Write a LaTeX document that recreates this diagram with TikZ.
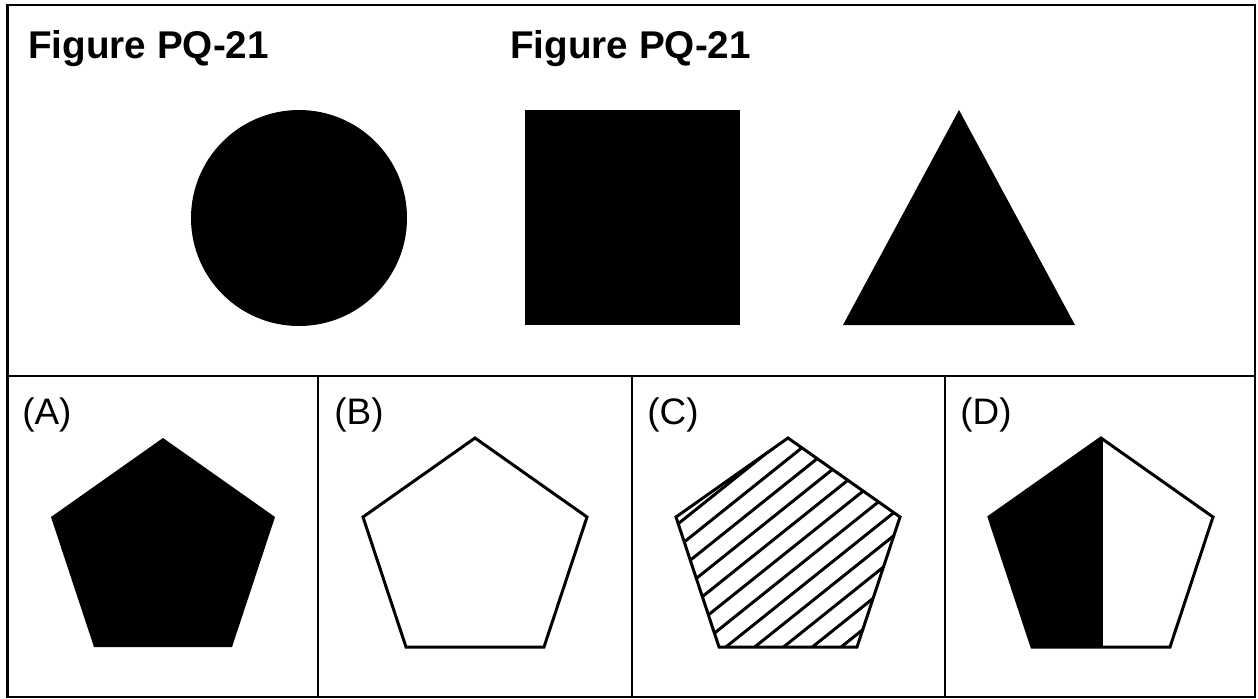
\documentclass[tikz,border=0pt]{standalone}
\usepackage{fontspec}
\setmainfont{Liberation Sans}
\usetikzlibrary{calc}
\tikzset{
  frameline/.style={line width=1.4pt, black},
  outline/.style={line width=1.7pt, black, line join=miter},
  hatchline/.style={line width=1.7pt, black},
  titletext/.style={anchor=base west, inner sep=0pt, font=\fontsize{22}{24}\selectfont\bfseries},
  labeltext/.style={anchor=base west, inner sep=0pt, font=\fontsize{21}{23}\selectfont},
}
\begin{document}
\begin{tikzpicture}[x=0.02cm, y=-0.02cm]
\useasboundingbox (0,0) rectangle (1258,698);
% frame and dividers
\draw[frameline] (7.5,5) rectangle (1255,697);
\draw[frameline] (7.5,376) -- (1255,376);
\draw[frameline] (318,376) -- (318,697);
\draw[frameline] (632,376) -- (632,697);
\draw[frameline] (945,376) -- (945,697);
% titles
\node[titletext] (t1) at (28,58) {Figure PQ-21};
\node[titletext] (t2) at (510,58) {Figure PQ-21};
% top shapes
\fill[black] (299,218) circle (108);
\fill[black] (525,110) rectangle (740,325);
\fill[black] (959,110) -- (1075,325) -- (843,325) -- cycle;
% labels
\node[labeltext] (la) at (22,424) {(A)};
\node[labeltext] (lb) at (334,424) {(B)};
\node[labeltext] (lc) at (647,424) {(C)};
\node[labeltext] (ld) at (960,424) {(D)};
% (A) filled pentagon
\def\pent#1{(#1,438) -- (#1+112,517) -- (#1+69,647) -- (#1-69,647) -- (#1-112,517) -- cycle}
\fill[black] \pent{163};
% (B) outline pentagon
\draw[outline] \pent{475};
% (C) hatched pentagon
\begin{scope}
  \clip \pent{788};
  \foreach \k in {0,...,11}{
    \draw[hatchline] ($(677,517)+({0.625*(6+18*\k)},{0.781*(6+18*\k)})$) ++(-156.2,125) -- ++(312.4,-250);
  }
\end{scope}
\draw[outline] \pent{788};
% (D) half filled pentagon
\fill[black] (1101,438) -- (1101,647) -- (1032,647) -- (989,517) -- cycle;
\draw[outline] (1101,438) -- (1101,647);
\draw[outline] \pent{1101};
\end{tikzpicture}
\end{document}
